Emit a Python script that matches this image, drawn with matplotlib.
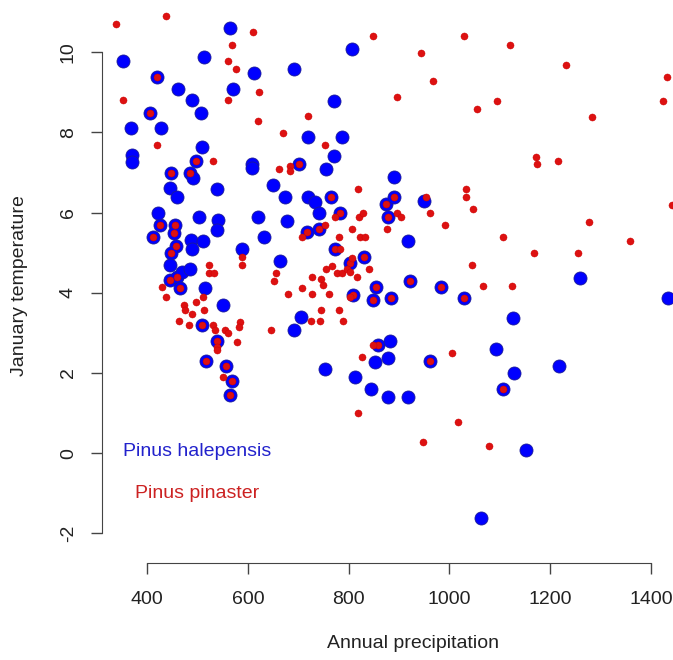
import matplotlib
matplotlib.use("Agg")
import matplotlib.pyplot as plt

plt.rcParams['font.family'] = ['Liberation Sans', 'DejaVu Sans']
plt.rcParams['axes.unicode_minus'] = False

# Pinus halepensis: annual precipitation (mm) / January temperature (C)
hal_precip = [419, 405, 497, 448, 486, 426, 456, 454, 411, 458, 448, 446, 459, 465,
              510, 538, 517, 556, 568, 565, 702, 765, 783, 875, 879, 717, 741, 772,
              831, 803, 854, 809, 849, 859, 889, 950, 922, 983, 885, 1028, 961, 1107,
              352, 565, 513, 462, 570, 489, 507, 368, 428, 510, 371, 371, 491, 446,
              459, 539, 422, 503, 541, 538, 487, 512, 490, 588, 446, 469, 485, 516,
              550, 807, 613, 692, 771, 719, 786, 771, 609, 609, 756, 649, 674, 720,
              733, 741, 620, 677, 632, 664, 705, 692, 882, 852, 878, 753, 813, 844,
              878, 889, 917, 1127, 1092, 1129, 917, 1151, 1062, 1259, 1433, 1218]
hal_temp = [9.38, 8.47, 7.29, 6.99, 6.99, 5.69, 5.69, 5.48, 5.4, 5.16, 4.98, 4.31, 4.4, 4.11,
            3.19, 2.79, 2.29, 2.17, 1.8, 1.46, 7.21, 6.39, 5.99, 6.22, 5.89, 5.52, 5.6, 5.1,
            4.9, 4.73, 4.15, 3.94, 3.82, 2.69, 6.39, 6.28, 4.29, 4.15, 3.88, 3.88, 2.29, 1.59,
            9.78, 10.59, 9.88, 9.08, 9.08, 8.8, 8.47, 8.1, 8.1, 7.64, 7.43, 7.26, 6.85, 6.6,
            6.39, 6.58, 5.99, 5.89, 5.81, 5.56, 5.31, 5.29, 5.1, 5.1, 4.69, 4.52, 4.6, 4.13,
            3.69, 10.09, 9.48, 9.58, 8.79, 7.89, 7.89, 7.41, 7.2, 7.1, 7.08, 6.68, 6.39, 6.39,
            6.27, 5.98, 5.88, 5.79, 5.38, 4.79, 3.4, 3.08, 2.8, 2.28, 2.38, 2.09, 1.89, 1.59,
            1.4, 6.89, 5.29, 3.38, 2.59, 1.99, 1.39, 0.07, -1.63, 4.37, 3.88, 2.18]

# Pinus pinaster
pin_precip = [419, 405, 497, 448, 486, 426, 456, 454, 411, 458, 448, 446, 459, 465,
              510, 538, 517, 556, 568, 565, 702, 765, 783, 875, 879, 717, 741, 772,
              831, 803, 854, 809, 849, 859, 889, 953, 922, 983, 885, 1028, 961, 1107,
              338, 437, 568, 561, 576, 352, 561, 419, 531, 589, 589, 522, 522, 532,
              429, 437, 498, 512, 473, 475, 514, 490, 464, 484, 530, 534, 555, 561,
              584, 583, 538, 538, 579, 550,
              611, 849, 623, 621, 719, 670, 753, 662, 684, 684, 819, 772, 821, 829,
              753, 708, 806, 877, 780, 823, 832, 783, 806, 755, 766, 776, 786, 796,
              803, 816, 841, 656, 651, 727, 745, 749, 707, 680, 727, 762, 803, 746,
              780, 725, 743, 788, 645, 848, 826,
              1028, 1120, 943, 968, 895, 1055, 1095, 895, 904, 961, 1032, 1032, 1047, 991,
              1107, 1044, 1067, 1125, 1006, 1016, 948, 1079, 819,
              1231, 1431, 1424, 1282, 1171, 1174, 1216, 1441, 1276, 1358, 1168, 1254]
pin_temp = [9.38, 8.47, 7.29, 6.99, 6.99, 5.69, 5.69, 5.48, 5.4, 5.16, 4.98, 4.31, 4.4, 4.11,
            3.19, 2.79, 2.29, 2.17, 1.8, 1.46, 7.21, 6.39, 5.99, 6.22, 5.89, 5.52, 5.6, 5.1,
            4.9, 4.73, 4.15, 3.94, 3.82, 2.69, 6.39, 6.38, 4.29, 4.15, 3.88, 3.88, 2.29, 1.59,
            10.7, 10.9, 10.19, 9.78, 9.58, 8.8, 8.8, 7.68, 7.29, 4.9, 4.69, 4.69, 4.48, 4.48,
            4.15, 3.9, 3.77, 3.9, 3.69, 3.57, 3.58, 3.48, 3.29, 3.19, 3.19, 3.07, 3.08, 2.99,
            3.27, 3.15, 2.65, 2.57, 2.78, 1.89,
            10.49, 10.4, 9.0, 8.28, 8.4, 7.99, 7.68, 7.08, 7.15, 7.03, 6.58, 5.88, 5.88, 5.99,
            5.69, 5.38, 5.58, 5.58, 5.38, 5.38, 5.38, 5.1, 4.86, 4.6, 4.67, 4.48, 4.48, 4.6,
            4.52, 4.4, 4.58, 4.48, 4.29, 4.4, 4.33, 4.19, 4.12, 3.98, 3.98, 3.98, 3.9, 3.58,
            3.58, 3.29, 3.29, 3.29, 3.08, 2.69, 2.39,
            10.4, 10.19, 9.99, 9.28, 8.89, 8.59, 8.79, 5.99, 5.89, 5.99, 6.58, 6.38, 6.08, 5.69,
            5.38, 4.69, 4.17, 4.17, 2.49, 0.78, 0.28, 0.18, 1.0,
            9.69, 9.38, 8.79, 8.39, 7.39, 7.2, 7.28, 6.18, 5.77, 5.29, 5.0, 5.0]

xticks = [400, 600, 800, 1000, 1200, 1400]
yticks = [-2, 0, 2, 4, 6, 8, 10]

fig = plt.figure(figsize=(6.73, 6.60), dpi=100)
# plot region runs past the right edge of the picture (it was cropped)
ax = fig.add_axes([102 / 673, 1 - 563 / 660, 598 / 673, 563 / 660])
ax.set_xlim(310.7, 1497)
ax.set_ylim(-2.74, 11.3)

ax.scatter(hal_precip, hal_temp, s=88, c='#0000ff', edgecolors='#1a1a99', linewidths=0.6, zorder=2)
ax.scatter(pin_precip, pin_temp, s=26, c='#dd1111', edgecolors='#cc0000', linewidths=0.3, zorder=3)

for side in ['top', 'right']:
    ax.spines[side].set_visible(False)
ax.spines['left'].set_bounds(-2, 10)
ax.spines['bottom'].set_bounds(400, 1400)
for side in ['left', 'bottom']:
    ax.spines[side].set_color('#444444')
ax.set_xticks(xticks)
ax.set_yticks(yticks)
ax.tick_params(length=8, width=1, color='#444444', labelsize=14, labelcolor='#222222')
ax.tick_params(axis='x', pad=12)
ax.tick_params(axis='y', pad=10)
plt.setp(ax.get_yticklabels(), rotation=90, va='center')

fig.text(413 / 673, 1 - 643 / 660, 'Annual precipitation', ha='center', va='center',
         fontsize=14, color='#222222')
fig.text(20 / 673, 1 - 286 / 660, 'January temperature', ha='center', va='center',
         rotation=90, fontsize=14, color='#222222')

fig.text(123 / 673, 1 - 452 / 660, 'Pinus halepensis', fontsize=14, color='#2222cc', va='center')
fig.text(135 / 673, 1 - 493 / 660, 'Pinus pinaster', fontsize=14, color='#cc2222', va='center')

plt.savefig('out.png', dpi=100)
